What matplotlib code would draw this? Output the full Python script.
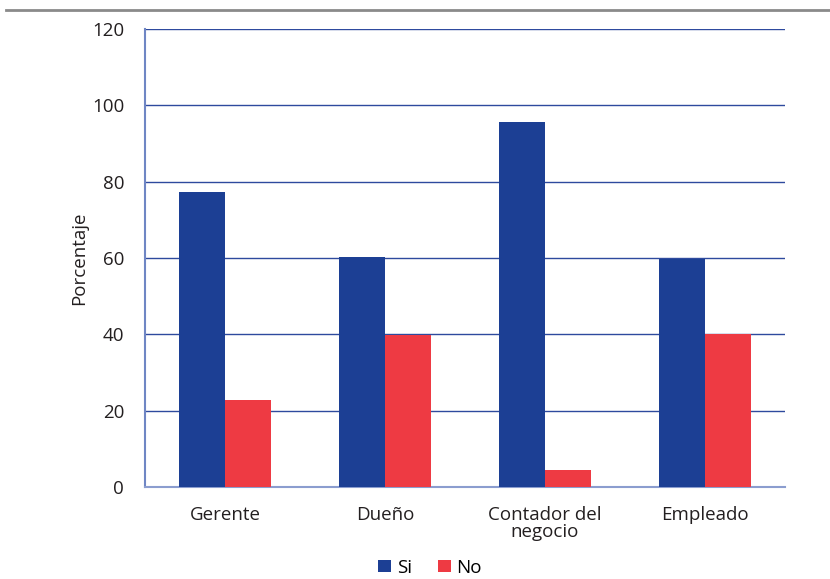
import numpy as np
import matplotlib.pyplot as plt
from matplotlib.lines import Line2D

categories = ['Gerente', 'Dueño', 'Contador del\nnegocio', 'Empleado']
si_values = [77.2, 60.3, 95.6, 59.8]
no_values = [22.8, 39.7, 4.4, 40.2]
y_ticks = [0, 20, 40, 60, 80, 100, 120]

blue = '#1c3f94'
red = '#ee3a43'
grid_blue = '#2e4a9e'
txt = '#231f20'
fs = 13.5

plt.rcParams['font.family'] = ['Open Sans', 'DejaVu Sans']

fig = plt.figure(figsize=(8.3, 5.79), dpi=100)
ax = fig.add_axes([145/830, 1 - 487/579, 640/830, 458/579])

x = np.arange(len(categories))
w = 0.2875
ax.bar(x - w/2, si_values, w, color=blue, label='Si', zorder=3)
ax.bar(x + w/2, no_values, w, color=red, label='No', zorder=3)

ax.set_xlim(-0.5, len(categories) - 0.5)
ax.set_ylim(0, 120)
ax.set_yticks(y_ticks)
ax.set_xticks(x)
ax.set_xticklabels(categories, fontsize=fs, color=txt, linespacing=0.92)
ax.tick_params(axis='y', labelsize=fs, colors=txt, length=0, pad=15)
ax.tick_params(axis='x', length=0, pad=14)
ax.grid(axis='y', color=grid_blue, linewidth=1.0, zorder=0)
for side in ['top', 'right']:
    ax.spines[side].set_visible(False)
ax.spines['left'].set_color('#6f86c4')
ax.spines['left'].set_linewidth(1.5)
ax.spines['bottom'].set_color('#8b9dcf')
ax.spines['bottom'].set_linewidth(1.5)
ax.set_ylabel('Porcentaje', fontsize=fs, color=txt)
ax.yaxis.set_label_coords(-57/640, 0.5)

ax.legend(loc='lower center', bbox_to_anchor=(430/830, -0.012), bbox_transform=fig.transFigure,
          ncol=2, frameon=False, fontsize=fs, handlelength=0.68, handleheight=0.68,
          handletextpad=0.3, columnspacing=1.4, borderaxespad=0.1)

# rule under the header
fig.add_artist(Line2D([6/830, 1], [1 - 10/579, 1 - 10/579], color='#8a8a8a', linewidth=2,
                      transform=fig.transFigure))

fig.savefig('out.png', dpi=100)
